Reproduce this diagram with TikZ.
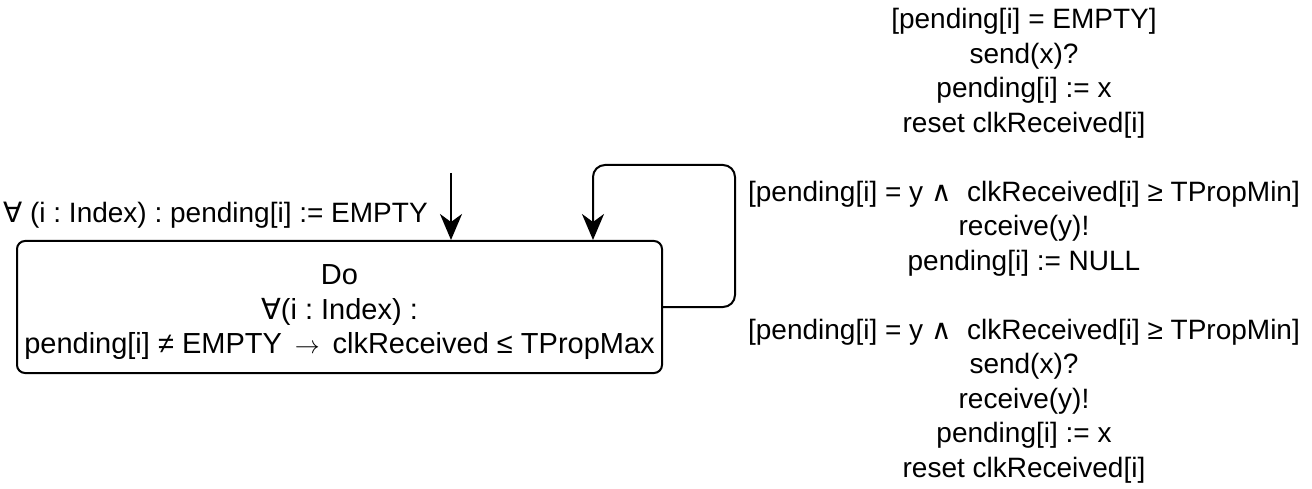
\documentclass[tikz,border=0pt]{standalone}
\usepackage{fontspec}
\setmainfont{Liberation Sans}
\newfontfamily\sym{DejaVu Sans}
\usetikzlibrary{arrows.meta}
\frenchspacing
\begin{document}
\begin{tikzpicture}[x=1pt,y=-1pt,
  txt/.style={font=\fontsize{28}{34.5}\selectfont, inner sep=0pt},
  arr/.style={line width=2pt, -{Stealth[length=26pt,width=22pt,inset=8pt]}},
  state/.style={draw, line width=2pt, rounded corners=8pt, minimum width=645pt, minimum height=132pt, align=center, txt, font=\fontsize{29}{34.5}\selectfont}]
\useasboundingbox (0,0) rectangle (1312,489);
\node[state] (box) at (339.5,307) {\rule{0pt}{31pt}Do\\ {\sym∀}(i : Index) :\\ pending[i] ≠ EMPTY\, $\rightarrow$\, clkReceived ≤ TPropMax};
\coordinate (init) at (451,173);
\draw[arr] (init) -- (init |- box.north);
\node[txt, anchor=base west] (initlbl) at (3,223) {{\sym∀} (i : Index) : pending[i] := EMPTY};
\coordinate (loopR) at (735,165);
\coordinate (loopL) at (593,165);
\draw[arr, rounded corners=12pt] (box.east) -| (loopR) -- (loopL) -- (loopL |- box.north);
\node[txt, align=center, anchor=north] (lbl) at (1024,6.5) {\rule{0pt}{22pt}[pending[i] = EMPTY]\\ send(x)?\\ pending[i] := x\\ reset clkReceived[i]\\[34.5pt]{}[pending[i] = y {\sym∧}~ clkReceived[i] ≥ TPropMin]\\ receive(y)!\\ pending[i] := NULL\\[34.5pt]{}[pending[i] = y {\sym∧}~ clkReceived[i] ≥ TPropMin]\\ send(x)?\\ receive(y)!\\ pending[i] := x\\ reset clkReceived[i]};
\end{tikzpicture}
\end{document}
